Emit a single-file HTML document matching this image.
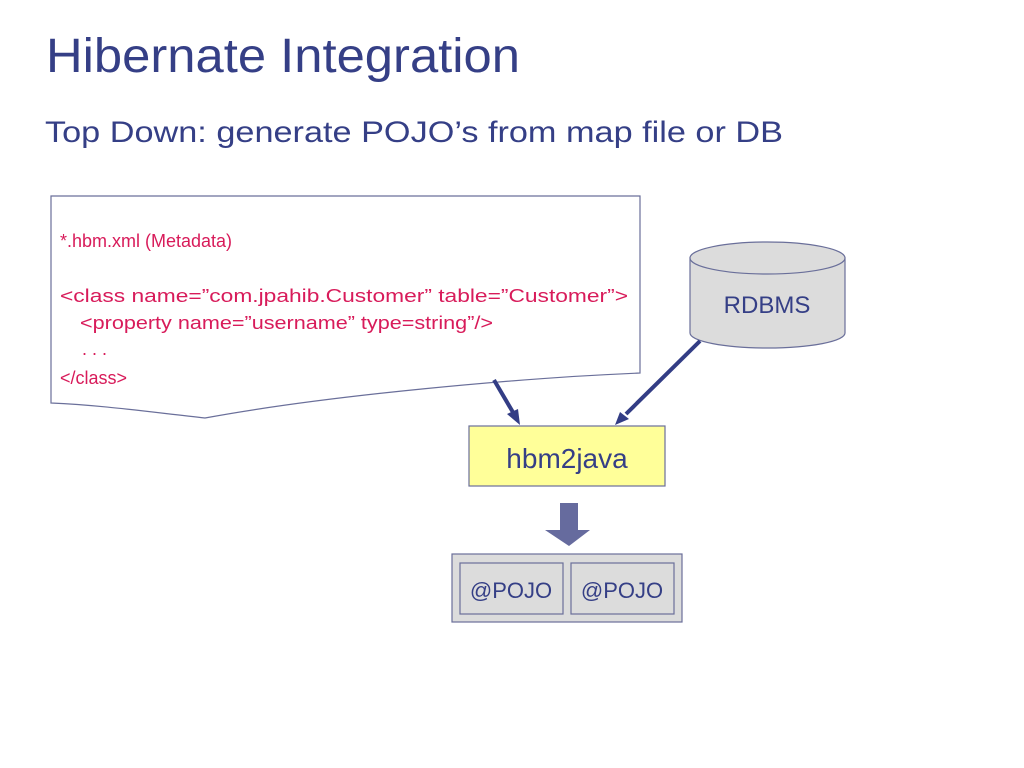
<!DOCTYPE html>
<html><head><meta charset="utf-8"><style>
html,body{margin:0;padding:0;background:#fff;width:1024px;height:768px;overflow:hidden}
svg{display:block}
text{font-family:"Liberation Sans",Arial,sans-serif}
</style></head><body>
<svg width="1024" height="768" viewBox="0 0 1024 768">
<text x="46" y="72" font-size="48" fill="#353f86" textLength="474" lengthAdjust="spacingAndGlyphs">Hibernate Integration</text>
<text x="45" y="142" font-size="30" fill="#353f86" textLength="738" lengthAdjust="spacingAndGlyphs">Top Down: generate POJO’s from map file or DB</text>

<path d="M51,196 L640,196 L640,373 C520,378 330,395 205,418 C150,412 100,405 51,403 Z" fill="#fff" stroke="#6a6f9a" stroke-width="1.2"/>
<g fill="#d81b5a" font-size="18">
<text x="60" y="247">*.hbm.xml (Metadata)</text>
<text x="60" y="302" textLength="568" lengthAdjust="spacingAndGlyphs">&lt;class name=”com.jpahib.Customer” table=”Customer”&gt;</text>
<text x="80" y="329" textLength="413" lengthAdjust="spacingAndGlyphs">&lt;property name=”username” type=string”/&gt;</text>
<text x="82" y="355">. . .</text>
<text x="60" y="384">&lt;/class&gt;</text>
</g>

<path d="M690,258 L690,333 A77.5,15 0 0 0 845,333 L845,258 Z" fill="#dcdcdc" stroke="#6a6f9a" stroke-width="1.2"/>
<ellipse cx="767.5" cy="258" rx="77.5" ry="16" fill="#dcdcdc" stroke="#6a6f9a" stroke-width="1.2"/>
<text x="767" y="313" font-size="24" fill="#353f86" text-anchor="middle">RDBMS</text>

<g stroke="#333d85" stroke-width="4" fill="#333d85">
<line x1="494" y1="380" x2="514" y2="414"/>
<line x1="700" y1="341" x2="626" y2="414"/>
</g>
<polygon points="520,425 507,414 518,409" fill="#333d85"/>
<polygon points="615,425 620,412 629,419" fill="#333d85"/>

<rect x="469" y="426" width="196" height="60" fill="#ffff99" stroke="#6a6f9a" stroke-width="1.2"/>
<text x="567" y="468" font-size="28" fill="#353f86" text-anchor="middle">hbm2java</text>

<polygon points="560,503 578,503 578,530 590,530 569,546 545,530 560,530" fill="#666b9e"/>

<rect x="452" y="554" width="230" height="68" fill="#dcdcdc" stroke="#6a6f9a" stroke-width="1.2"/>
<rect x="460" y="563" width="103" height="51" fill="#dcdcdc" stroke="#6a6f9a" stroke-width="1.2"/>
<rect x="571" y="563" width="103" height="51" fill="#dcdcdc" stroke="#6a6f9a" stroke-width="1.2"/>
<text x="511" y="598" font-size="22" fill="#353f86" text-anchor="middle">@POJO</text>
<text x="622" y="598" font-size="22" fill="#353f86" text-anchor="middle">@POJO</text>
</svg>
</body></html>
